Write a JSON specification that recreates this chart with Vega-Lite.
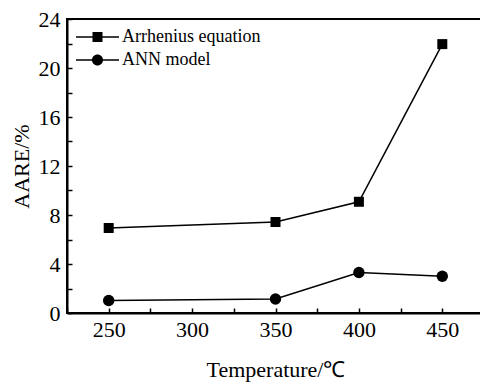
{
  "$schema": "https://vega.github.io/schema/vega-lite/v6.json",
  "autosize": "none",
  "padding": {"left": 67, "top": 19, "right": 0, "bottom": 70},
  "width": 417,
  "height": 294,
  "background": "white",
  "config": {
    "font": "Liberation Serif",
    "view": {"stroke": "black", "strokeWidth": 2},
    "axis": {
      "grid": false,
      "zindex": 1,
      "domainColor": "black",
      "domainWidth": 2,
      "ticks": true,
      "tickColor": "black",
      "tickWidth": 1.5,
      "tickSize": -5,
      "tickOpacity": 1,
      "labelFont": "Liberation Serif",
      "labelFontSize": 22,
      "labelColor": "black",
      "labelOverlap": false,
      "labelFlush": false,
      "titleFont": "Liberation Serif",
      "titleFontSize": 22,
      "titleFontWeight": "normal",
      "titleColor": "black"
    },
    "legend": {
      "labelFont": "Liberation Serif"
    }
  },
  "data": {
    "values": [
      {"T": 250, "AARE": 6.94, "model": "Arrhenius equation"},
      {"T": 350, "AARE": 7.43, "model": "Arrhenius equation"},
      {"T": 400, "AARE": 9.08, "model": "Arrhenius equation"},
      {"T": 450, "AARE": 21.95, "model": "Arrhenius equation"},
      {"T": 250, "AARE": 1.02, "model": "ANN model"},
      {"T": 350, "AARE": 1.14, "model": "ANN model"},
      {"T": 400, "AARE": 3.3, "model": "ANN model"},
      {"T": 450, "AARE": 3.0, "model": "ANN model"}
    ]
  },
  "encoding": {
    "x": {
      "field": "T",
      "type": "quantitative",
      "scale": {"domain": [225, 475], "nice": false, "zero": false},
      "axis": {
        "title": "Temperature/℃",
        "values": [225, 250, 275, 300, 325, 350, 375, 400, 425, 450, 475],
        "labelExpr": "datum.value % 50 == 0 ? datum.label : ''",
        "labelPadding": 11,
        "titlePadding": 19
      }
    },
    "y": {
      "field": "AARE",
      "type": "quantitative",
      "scale": {"domain": [0, 24], "nice": false},
      "axis": {
        "title": "AARE/%",
        "values": [0, 2, 4, 6, 8, 10, 12, 14, 16, 18, 20, 22, 24],
        "labelExpr": "datum.value % 4 == 0 ? datum.label : ''",
        "labelPadding": 12,
        "titlePadding": 5
      }
    }
  },
  "layer": [
    {
      "mark": {"type": "line", "color": "black", "strokeWidth": 1.5},
      "encoding": {"detail": {"field": "model"}}
    },
    {
      "mark": {"type": "point", "filled": true, "color": "black", "opacity": 1},
      "encoding": {
        "shape": {
          "field": "model",
          "type": "nominal",
          "scale": {"domain": ["Arrhenius equation", "ANN model"], "range": ["square", "circle"]},
          "legend": null
        },
        "size": {"condition": {"test": "datum.model === 'ANN model'", "value": 130}, "value": 100}
      }
    },
    {
      "transform": [{"filter": "false"}],
      "mark": {"type": "point", "filled": true, "color": "black", "opacity": 1},
      "encoding": {
        "shape": {
          "field": "model",
          "type": "nominal",
          "scale": {
            "domain": ["Arrhenius equation", "ANN model"],
            "range": [
              "M-2.69,-0.09H-0.6V0.09H-2.69ZM0.6,-0.09H2.69V0.09H0.6ZM-0.625,-0.625H0.625V0.625H-0.625Z",
              "M-2.69,-0.09H-0.66V0.09H-2.69ZM0.66,-0.09H2.69V0.09H0.66ZM0.69,0A0.69,0.69,0,1,1,-0.69,0A0.69,0.69,0,1,1,0.69,0Z"
            ]
          },
          "legend": {
            "title": null,
            "orient": "none",
            "legendX": 21.5,
            "legendY": 9,
            "padding": 0,
            "symbolSize": 256,
            "labelOffset": 15.5,
            "labelFontSize": 18,
            "labelFont": "Liberation Serif",
            "labelColor": "black",
            "rowPadding": 5,
            "symbolFillColor": "black",
            "symbolOpacity": 1
          }
        }
      }
    }
  ],
  "resolve": {"scale": {"shape": "independent"}}
}
